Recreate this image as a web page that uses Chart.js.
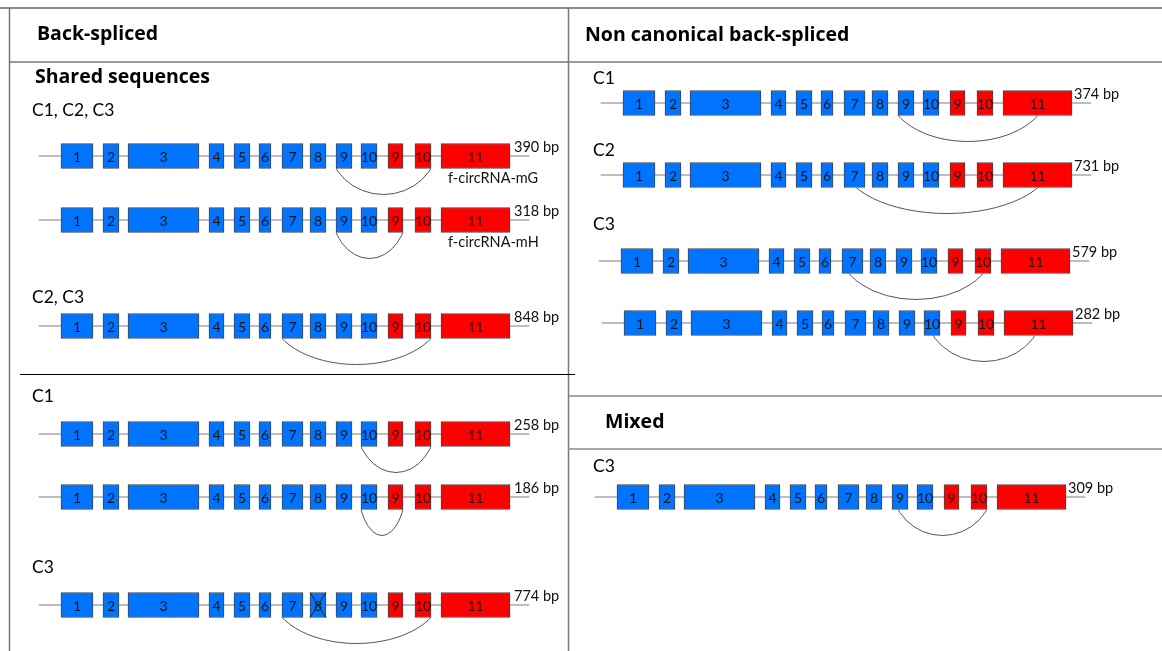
<!DOCTYPE html>
<html>
<head>
<meta charset="utf-8">
<script src="https://cdn.jsdelivr.net/npm/chart.js"></script>
<style>
body{margin:0;background:#fff;}
#wrap{width:1162px;height:651px;}
</style>
</head>
<body>
<div id="wrap"><canvas id="chart" width="1162" height="651"></canvas></div>
<script>
// exon model, gene units (exon 1 starts at 0)
const exonNames = ['1','2','3','4','5','6','7','8','9','10','9','10','11'];
const exonStart = [0, 42, 67, 148, 173, 198, 221, 249, 275, 300, 327, 354, 380];
const exonEnd   = [32, 58, 138, 163, 189, 210, 242, 265, 291, 316, 342, 370, 449];
const exonRed   = [0, 0, 0, 0, 0, 0, 0, 0, 0, 0, 1, 1, 1];
const intron    = [-22, 468];

// left panel: back-spliced
const leftRowY   = [156, 220, 326, 434, 497, 605];
const leftShift  = [0, 0, 0, 0, 0, 0];
const leftSize   = ['390 bp', '318 bp', '848 bp', '258 bp', '186 bp', '774 bp'];
const leftArcs   = [[275, 370], [275, 342], [221, 370], [300, 370], [300, 342], [221, 370]];
const leftTags   = ['f-circRNA-mG', 'f-circRNA-mH', '', '', '', ''];
const leftCross  = [-1, -1, -1, -1, -1, 7];

// right panel: non canonical + mixed
const rightRowY  = [103, 175, 261, 323, 497];
const rightShift = [0, 0, -2, 1, -6];
const rightSize  = ['374 bp', '731 bp', '579 bp', '282 bp', '309 bp'];
const rightArcs  = [[275, 415], [233, 415], [228, 362], [309, 411], [281, 370]];

// headings and group labels
const headings = [['Back-spliced', 37, 34], ['Non canonical back-spliced', 585, 35], ['Shared sequences', 35, 77], ['Mixed', 605, 422]];
const groups = [['C1, C2, C3', 32, 110], ['C2, C3', 32, 297], ['C1', 32, 396], ['C3', 32, 567],
                ['C1', 593, 78], ['C2', 593, 150], ['C3', 593, 224], ['C3', 593, 466]];

const BLUE = '#0073ff';
const RED = '#ff0000';

function exonBars(rows, shifts){
  const out = [];
  rows.forEach((y, r) => {
    exonStart.forEach((s, i) => {
      out.push({x: [s + shifts[r], exonEnd[i] + shifts[r]], y: y, n: exonNames[i], red: exonRed[i]});
    });
  });
  return out;
}
function intronBars(rows, shifts){
  return rows.map((y, r) => ({x: [intron[0] + shifts[r], intron[1] + shifts[r]], y: y}));
}

function exonSet(label, rows, shifts, axis){
  return {
    label: label, data: exonBars(rows, shifts), xAxisID: axis,
    backgroundColor: c => (c.raw && c.raw.red) ? RED : BLUE,
    borderColor: '#454545', borderWidth: 1, borderSkipped: false,
    barThickness: 25, grouped: false
  };
}
function intronSet(label, rows, shifts, axis){
  return {
    label: label, data: intronBars(rows, shifts), xAxisID: axis,
    backgroundColor: '#a8a8a8', borderWidth: 0, barThickness: 1, grouped: false
  };
}

function drawArc(ctx, xs, ys, a, b, rowY){
  const pa = xs.getPixelForValue(a), pb = xs.getPixelForValue(b);
  const bottom = ys.getPixelForValue(rowY) + 12.5;
  const h = 26, depth = 26, ry = h + depth;
  const w = (pb - pa) / 2, rx = w / Math.sqrt(1 - (h / ry) * (h / ry));
  ctx.save();
  ctx.beginPath(); ctx.rect(0, bottom, 1162, ry); ctx.clip();
  ctx.beginPath();
  ctx.ellipse((pa + pb) / 2, bottom - h, rx, ry, 0, 0, Math.PI * 2);
  ctx.strokeStyle = '#555'; ctx.lineWidth = 1; ctx.stroke();
  ctx.restore();
}

const labelsPlugin = {
  id: 'labels',
  afterDatasetsDraw(chart){
    const ctx = chart.ctx;
    const ys = chart.scales.y;
    // numbers in the exons
    [0, 1].forEach(d => {
      const meta = chart.getDatasetMeta(d);
      meta.data.forEach((el, i) => {
        const raw = chart.data.datasets[d].data[i];
        ctx.save();
        ctx.fillStyle = '#151515';
        ctx.font = '14px Lato';
        ctx.textAlign = 'center'; ctx.textBaseline = 'middle';
        ctx.fillText(raw.n, (el.x + el.base) / 2, el.y + 1);
        ctx.restore();
      });
    });
    // crossed exon
    const lm = chart.getDatasetMeta(0);
    leftCross.forEach((e, r) => {
      if (e < 0) return;
      const el = lm.data[r * exonStart.length + e];
      const x0 = Math.min(el.x, el.base), x1 = Math.max(el.x, el.base);
      ctx.save();
      ctx.strokeStyle = '#222'; ctx.lineWidth = 1;
      ctx.beginPath();
      ctx.moveTo(x0, el.y - 12.5); ctx.lineTo(x1, el.y + 12.5);
      ctx.moveTo(x1, el.y - 12.5); ctx.lineTo(x0, el.y + 12.5);
      ctx.stroke();
      ctx.restore();
    });
    // arcs
    leftArcs.forEach((a, r) => drawArc(ctx, chart.scales.x, ys, a[0] + leftShift[r], a[1] + leftShift[r], leftRowY[r]));
    rightArcs.forEach((a, r) => drawArc(ctx, chart.scales.x2, ys, a[0] + rightShift[r], a[1] + rightShift[r], rightRowY[r]));
    // sizes and tags
    ctx.save();
    ctx.fillStyle = '#111';
    ctx.font = '14.5px Lato';
    ctx.textBaseline = 'middle';
    leftSize.forEach((s, r) => {
      const x = chart.scales.x.getPixelForValue(exonEnd[12] + leftShift[r]) + 4;
      ctx.fillText(s, x, ys.getPixelForValue(leftRowY[r]) - 9);
    });
    rightSize.forEach((s, r) => {
      const x = chart.scales.x2.getPixelForValue(exonEnd[12] + rightShift[r]) + 2;
      ctx.fillText(s, x, ys.getPixelForValue(rightRowY[r]) - 9);
    });
    leftTags.forEach((t, r) => {
      if (!t) return;
      const x = chart.scales.x.getPixelForValue(exonStart[12] + leftShift[r]) + 7;
      ctx.fillText(t, x, ys.getPixelForValue(leftRowY[r]) + 22);
    });
    ctx.restore();
  },
  afterDraw(chart){
    const ctx = chart.ctx;
    ctx.save();
    function line(x0, y0, x1, y1, col, w){
      ctx.strokeStyle = col; ctx.lineWidth = w;
      ctx.beginPath(); ctx.moveTo(x0, y0); ctx.lineTo(x1, y1); ctx.stroke();
    }
    line(0, 8, 1162, 8, '#666', 1.5);
    line(9.5, 8, 9.5, 651, '#777', 1.5);
    line(568.5, 8, 568.5, 651, '#777', 1.5);
    line(9, 62, 1162, 62, '#777', 1.5);
    line(20, 374.5, 575, 374.5, '#000', 1.2);
    line(568, 396, 1162, 396, '#888', 1.5);
    line(568, 449, 1162, 449, '#888', 1.5);
    ctx.fillStyle = '#000';
    ctx.textBaseline = 'middle';
    ctx.font = 'bold 19.5px "Open Sans"';
    headings.forEach(h => ctx.fillText(h[0], h[1], h[2]));
    ctx.font = '17.5px Lato';
    groups.forEach(g => ctx.fillText(g[0], g[1], g[2]));
    ctx.restore();
  }
};

new Chart(document.getElementById('chart'), {
  type: 'bar',
  data: {
    datasets: [
      exonSet('left exons', leftRowY, leftShift, 'x'),
      exonSet('right exons', rightRowY, rightShift, 'x2'),
      intronSet('left intron', leftRowY, leftShift, 'x'),
      intronSet('right intron', rightRowY, rightShift, 'x2')
    ]
  },
  options: {
    indexAxis: 'y',
    responsive: false,
    animation: false,
    events: [],
    layout: {padding: 0},
    plugins: {legend: {display: false}, tooltip: {enabled: false}},
    scales: {
      x:  {type: 'linear', axis: 'x', min: -61, max: 1101, offset: false, display: false},
      x2: {type: 'linear', axis: 'x', min: -623, max: 539, offset: false, display: false},
      y:  {type: 'linear', min: 0, max: 651, reverse: true, offset: false, display: false}
    }
  },
  plugins: [labelsPlugin]
});
</script>
</body>
</html>
